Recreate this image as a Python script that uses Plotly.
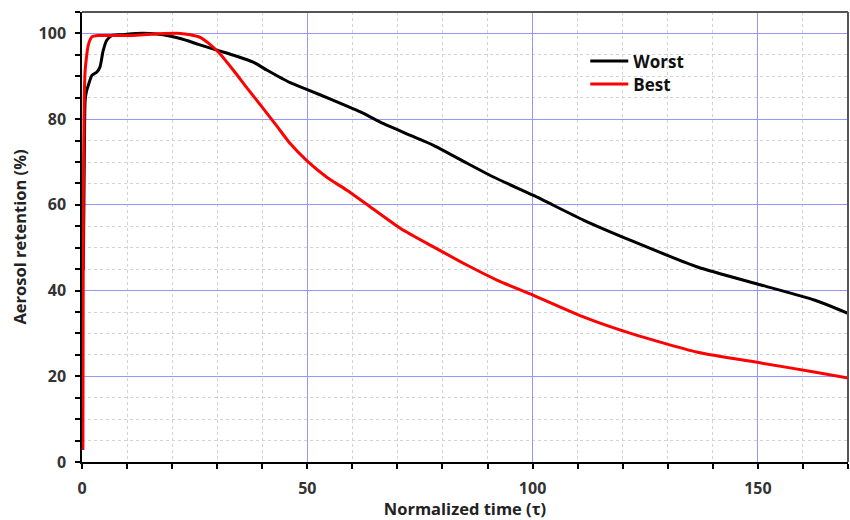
import plotly.graph_objects as go

# Normalized time (tau) and aerosol retention (%) for the two cases
worst_t = [0.3, 0.5, 0.7, 1.0, 1.4, 2.2, 3.3, 4.0, 4.7, 5.5, 6.6, 8.8, 12, 15, 18,
           21.8, 26, 30.3, 34, 38, 41.1, 46.2, 50, 55.8, 61.8, 66.2, 72.9, 78,
           85.5, 91.3, 100.2, 111.4, 121.8, 136.6, 150.7, 162.5, 170]
worst_r = [44.8, 70, 84.4, 86.5, 87.9, 90.2, 91, 92.2, 96, 98.4, 99.5, 99.7, 100, 100, 99.7,
           98.8, 97.4, 96, 94.8, 93.3, 91.4, 88.5, 86.9, 84.4, 81.7, 79.3, 76.2, 73.9,
           69.7, 66.5, 62.2, 56.4, 51.7, 45.5, 41.3, 37.8, 34.7]

best_t = [0.2, 0.3, 0.5, 0.7, 1.0, 1.3, 1.7, 2.2, 3.6, 7.3, 12, 17, 21.8, 24, 26.2, 28,
          30.3, 33.6, 36.6, 40.2, 43.3, 46.2, 50, 54.4, 58.8, 64, 70.7, 78, 85.5,
          92.2, 100.2, 111.4, 121.8, 136.6, 150.7, 162.5, 170]
best_r = [2.8, 60, 84.4, 91.4, 94.5, 96.8, 98.3, 99.2, 99.5, 99.5, 99.6, 99.9, 100, 99.7, 99.1, 97.8,
          95.6, 91.4, 87.3, 82.5, 78.3, 74.3, 70.2, 66.4, 63.4, 59.5, 54.5, 50.2, 45.9,
          42.4, 38.9, 33.8, 30, 25.6, 23.1, 21, 19.6]

x_ticks = [0, 50, 100, 150]
y_ticks = [0, 20, 40, 60, 80, 100]

FONT = "Open Sans"
GRID_MAJOR = "rgb(150,150,255)"
GRID_MINOR = "rgb(210,210,210)"

fig = go.Figure()
fig.add_trace(go.Scatter(x=worst_t, y=worst_r, name="Worst", mode="lines",
                         line=dict(color="black", width=3, shape="spline", smoothing=0.6),
                         legend="legend"))
fig.add_trace(go.Scatter(x=best_t, y=best_r, name="Best", mode="lines",
                         line=dict(color="red", width=3, shape="spline", smoothing=0.6),
                         legend="legend2"))

axis_common = dict(
    showline=True, linecolor="black", linewidth=1.5,
    ticks="outside", ticklen=5, tickcolor="black", tickwidth=1.5,
    showgrid=True, gridcolor=GRID_MAJOR, gridwidth=1,
    zeroline=False,
    tickfont=dict(family=FONT, size=16, color="#333333", weight="bold"),
)

fig.update_xaxes(
    range=[0, 170], tickvals=x_ticks, ticktext=[str(v) for v in x_ticks],
    minor=dict(dtick=10, tick0=0, ticks="outside", ticklen=5, tickcolor="black",
               showgrid=True, gridcolor=GRID_MINOR, griddash="dot", gridwidth=1),
    title=dict(text="Normalized time (τ)", standoff=6,
               font=dict(family=FONT, size=16.5, color="#222222", weight="bold")),
    ticklabelstandoff=6,
    **axis_common,
)
fig.update_yaxes(
    range=[0, 105], tickvals=y_ticks, ticktext=[str(v) for v in y_ticks],
    minor=dict(dtick=5, tick0=0, ticks="outside", ticklen=5, tickcolor="black",
               showgrid=True, gridcolor=GRID_MINOR, griddash="dot", gridwidth=1),
    title=dict(text="Aerosol retention (%)", standoff=8,
               font=dict(family=FONT, size=16.5, color="#222222", weight="bold")),
    ticklabelstandoff=6,
    **axis_common,
)

# top and right frame edges
fig.add_shape(type="line", xref="paper", yref="paper", x0=0, x1=1, y0=1, y1=1,
              line=dict(color="#555555", width=2))
fig.add_shape(type="line", xref="paper", yref="paper", x0=1, x1=1, y0=0, y1=1,
              line=dict(color="#555555", width=2))

legend_style = dict(xanchor="left", yanchor="top", itemwidth=38,
                    bgcolor="rgba(255,255,255,0)",
                    font=dict(family=FONT, size=17, color="#111111", weight="bold"))

fig.update_layout(
    width=850, height=520,
    margin=dict(l=82, r=2, t=12, b=58),
    paper_bgcolor="white", plot_bgcolor="white",
    showlegend=True,
    legend=dict(x=0.657, y=0.93, **legend_style),
    legend2=dict(x=0.657, y=0.879, **legend_style),
)

fig.write_html("out.html")
